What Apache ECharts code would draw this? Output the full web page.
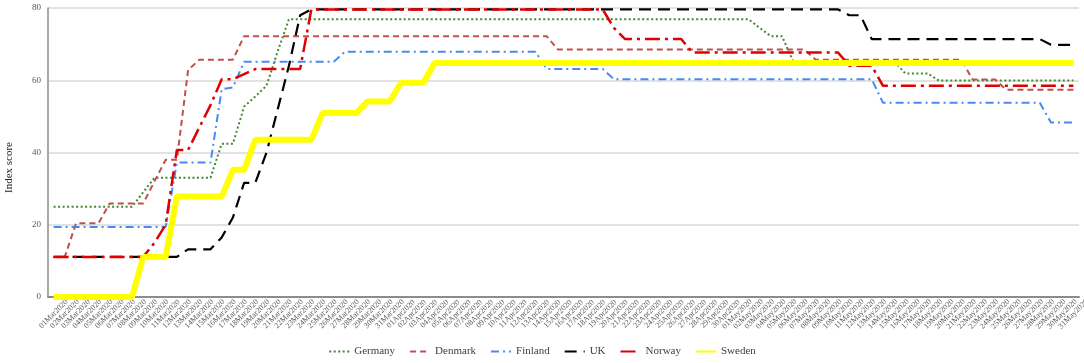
<!DOCTYPE html>
<html>
<head>
<meta charset="utf-8">
<script src="https://cdn.jsdelivr.net/npm/echarts@6/dist/echarts.min.js"></script>
<style>
  html, body { margin: 0; padding: 0; background: #fff; }
  #chart { width: 1084px; height: 363px; }
</style>
</head>
<body>
<div id="chart"></div>
<script>
// day labels 01Mar2020 .. 31May2020
const months = ['Mar', 'Apr', 'May'];
const monthDays = [31, 30, 31];
const days = [];
months.forEach(function (m, k) {
  for (let d = 1; d <= monthDays[k]; d++) {
    days.push((d < 10 ? '0' + d : '' + d) + m + '2020');
  }
});

// stringency index, one value per day
const germany = [
  25, 25, 25, 25, 25, 25, 25, 25, 29, 33, 33, 33, 33, 33, 33, 42.4, 42.4, 52.7, 55.5, 58.5,
  68, 76.9, 76.9, 76.9, 76.9, 76.9, 76.9, 76.9, 76.9, 76.9, 76.9, 76.9, 76.9, 76.9, 76.9, 76.9,
  76.9, 76.9, 76.9, 76.9, 76.9, 76.9, 76.9, 76.9, 76.9, 76.9, 76.9, 76.9, 76.9, 76.9, 76.9, 76.9,
  76.9, 76.9, 76.9, 76.9, 76.9, 76.9, 76.9, 76.9, 76.9, 76.9, 76.9, 74.5, 72.2, 72.2, 65.2, 65.2,
  65.2, 65.2, 65.2, 65.2, 65.2, 65.2, 65.2, 65.2, 61.9, 61.9, 61.9, 59.9, 59.9, 59.9, 59.9, 59.9,
  59.9, 59.9, 59.9, 59.9, 59.9, 59.9, 59.9, 59.9
];
const denmark = [
  11.1, 11.1, 20.4, 20.4, 20.4, 25.9, 25.9, 25.9, 25.9, 32, 38, 38, 62.8, 65.7, 65.7, 65.7, 65.7,
  72.2, 72.2, 72.2, 72.2, 72.2, 72.2, 72.2, 72.2, 72.2, 72.2, 72.2, 72.2, 72.2, 72.2, 72.2, 72.2,
  72.2, 72.2, 72.2, 72.2, 72.2, 72.2, 72.2, 72.2, 72.2, 72.2, 72.2, 72.2, 68.5, 68.5, 68.5, 68.5,
  68.5, 68.5, 68.5, 68.5, 68.5, 68.5, 68.5, 68.5, 68.5, 68.5, 68.5, 68.5, 68.5, 68.5, 68.5, 68.5,
  68.5, 68.5, 68.5, 65.7, 65.7, 65.7, 65.7, 65.7, 65.7, 65.7, 65.7, 65.7, 65.7, 65.7, 65.7, 65.7,
  65.7, 60.2, 60.2, 60.2, 57.4, 57.4, 57.4, 57.4, 57.4, 57.4, 57.4
];
const finland = [
  19.4, 19.4, 19.4, 19.4, 19.4, 19.4, 19.4, 19.4, 19.4, 19.4, 19.4, 37.2, 37.2, 37.2, 37.2, 57.5,
  58, 65.1, 65.1, 65.1, 65.1, 65.1, 65.1, 65.1, 65.1, 65.1, 67.9, 67.9, 67.9, 67.9, 67.9, 67.9,
  67.9, 67.9, 67.9, 67.9, 67.9, 67.9, 67.9, 67.9, 67.9, 67.9, 67.9, 67.9, 63.1, 63.1, 63.1, 63.1,
  63.1, 63.1, 60.3, 60.3, 60.3, 60.3, 60.3, 60.3, 60.3, 60.3, 60.3, 60.3, 60.3, 60.3, 60.3, 60.3,
  60.3, 60.3, 60.3, 60.3, 60.3, 60.3, 60.3, 60.3, 60.3, 60.3, 53.8, 53.8, 53.8, 53.8, 53.8, 53.8,
  53.8, 53.8, 53.8, 53.8, 53.8, 53.8, 53.8, 53.8, 53.8, 48.3, 48.3, 48.3
];
const uk = [
  11.1, 11.1, 11.1, 11.1, 11.1, 11.1, 11.1, 11.1, 11.1, 11.1, 11.1, 11.1, 13.2, 13.2, 13.2, 16.5,
  22, 31.6, 31.6, 40, 52, 64, 78, 79.6, 79.6, 79.6, 79.6, 79.6, 79.6, 79.6, 79.6, 79.6, 79.6, 79.6,
  79.6, 79.6, 79.6, 79.6, 79.6, 79.6, 79.6, 79.6, 79.6, 79.6, 79.6, 79.6, 79.6, 79.6, 79.6, 79.6,
  79.6, 79.6, 79.6, 79.6, 79.6, 79.6, 79.6, 79.6, 79.6, 79.6, 79.6, 79.6, 79.6, 79.6, 79.6, 79.6,
  79.6, 79.6, 79.6, 79.6, 79.6, 78, 78, 71.4, 71.4, 71.4, 71.4, 71.4, 71.4, 71.4, 71.4, 71.4, 71.4,
  71.4, 71.4, 71.4, 71.4, 71.4, 71.4, 69.8, 69.8, 69.8
];
const norway = [
  11.1, 11.1, 11.1, 11.1, 11.1, 11.1, 11.1, 11.1, 11.1, 15, 20, 40.7, 40.7, 46.9, 53.1, 60.3, 60.3,
  61.7, 63.1, 63.1, 63.1, 63.1, 63.1, 79.6, 79.6, 79.6, 79.6, 79.6, 79.6, 79.6, 79.6, 79.6, 79.6,
  79.6, 79.6, 79.6, 79.6, 79.6, 79.6, 79.6, 79.6, 79.6, 79.6, 79.6, 79.6, 79.6, 79.6, 79.6, 79.6,
  79.6, 74.5, 71.4, 71.4, 71.4, 71.4, 71.4, 71.4, 67.7, 67.7, 67.7, 67.7, 67.7, 67.7, 67.7, 67.7,
  67.7, 67.7, 67.7, 67.7, 67.7, 67.7, 64, 64, 64, 58.5, 58.5, 58.5, 58.5, 58.5, 58.5, 58.5, 58.5,
  58.5, 58.5, 58.5, 58.5, 58.5, 58.5, 58.5, 58.5, 58.5, 58.5
];
const sweden = [
  0, 0, 0, 0, 0, 0, 0, 0, 11.1, 11.1, 11.1, 27.8, 27.8, 27.8, 27.8, 27.8, 35.2, 35.2, 43.5, 43.5,
  43.5, 43.5, 43.5, 43.5, 50.9, 50.9, 50.9, 50.9, 54.1, 54.1, 54.1, 59.3, 59.3, 59.3, 64.8, 64.8,
  64.8, 64.8, 64.8, 64.8, 64.8, 64.8, 64.8, 64.8, 64.8, 64.8, 64.8, 64.8, 64.8, 64.8, 64.8, 64.8,
  64.8, 64.8, 64.8, 64.8, 64.8, 64.8, 64.8, 64.8, 64.8, 64.8, 64.8, 64.8, 64.8, 64.8, 64.8, 64.8,
  64.8, 64.8, 64.8, 64.8, 64.8, 64.8, 64.8, 64.8, 64.8, 64.8, 64.8, 64.8, 64.8, 64.8, 64.8, 64.8,
  64.8, 64.8, 64.8, 64.8, 64.8, 64.8, 64.8, 64.8
];

const serif = '"Liberation Serif", "DejaVu Serif", serif';

function lineSeries(name, data, color, width, dash) {
  return {
    name: name,
    type: 'line',
    data: data,
    symbol: 'none',
    clip: false,
    lineStyle: { color: color, width: width, type: dash, cap: 'butt' },
    itemStyle: { color: color }
  };
}

const chart = echarts.init(document.getElementById('chart'));
const option = {
  animation: false,
  backgroundColor: '#fff',
  textStyle: { fontFamily: serif },
  grid: { left: 48, right: 5, top: 8, bottom: 66, outerBoundsMode: 'none', containLabel: false },
  legend: {
    bottom: 1,
    left: 'center',
    itemWidth: 20,
    itemHeight: 10,
    itemGap: 14,
    itemStyle: { opacity: 0 },
    textStyle: { fontFamily: serif, fontSize: 11, color: '#404040' },
    data: ['Germany', 'Denmark', 'Finland', 'UK', 'Norway', 'Sweden']
  },
  xAxis: {
    type: 'category',
    data: days,
    boundaryGap: true,
    axisLine: { lineStyle: { color: '#8c8c8c', width: 2 } },
    axisTick: { show: false },
    axisLabel: {
      interval: 0,
      rotate: 45,
      align: 'center',
      verticalAlign: 'middle',
      margin: 17,
      fontSize: 8,
      fontFamily: serif,
      color: '#595959'
    }
  },
  yAxis: {
    type: 'value',
    min: 0,
    max: 80,
    interval: 20,
    name: 'Index score',
    nameLocation: 'middle',
    nameGap: 33,
    nameTextStyle: { fontFamily: serif, fontSize: 11, color: '#222', padding: [0, 30, 0, 0] },
    axisLine: { show: true, lineStyle: { color: '#8c8c8c', width: 1.5 } },
    axisTick: { show: false },
    axisLabel: { fontSize: 9, fontFamily: serif, color: '#595959', margin: 7 },
    splitLine: { lineStyle: { color: '#d9d9d9', width: 1.5 } }
  },
  series: [
    lineSeries('Germany', germany, '#3f8a2e', 2, [2, 2.5]),
    lineSeries('Denmark', denmark, '#c0504d', 2, [6, 4]),
    lineSeries('Finland', finland, '#4a8af0', 2, [8, 4, 2, 4]),
    lineSeries('UK', uk, '#000000', 2.2, [12, 7]),
    lineSeries('Norway', norway, '#e00000', 2.5, [15, 5, 3, 5]),
    lineSeries('Sweden', sweden, '#ffff00', 6, 'solid')
  ]
};
chart.setOption(option);
</script>
</body>
</html>
